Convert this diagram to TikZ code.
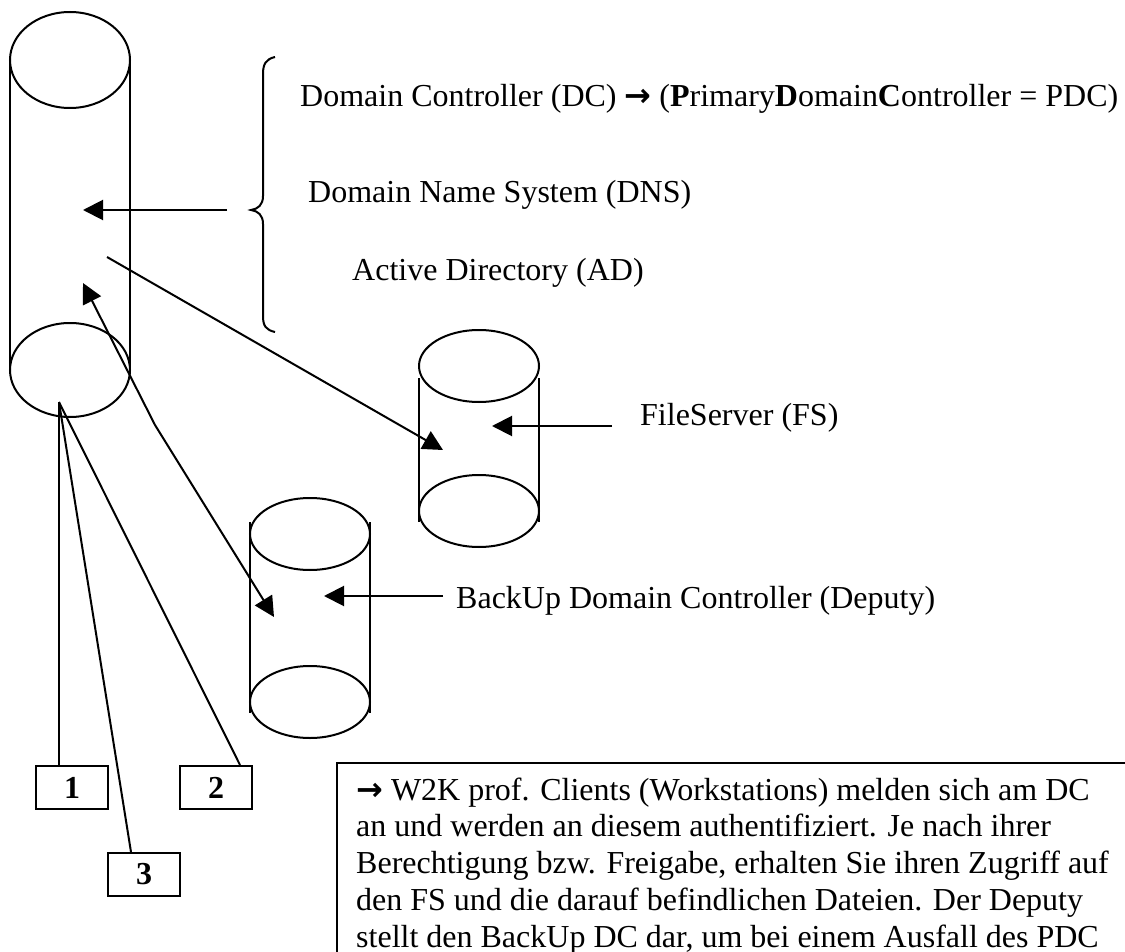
\documentclass[tikz,border=0pt]{standalone}
\usepackage{fontspec}
\setmainfont{Liberation Serif}
\newfontfamily\symfont{DejaVu Sans}
\usetikzlibrary{arrows.meta}
\begin{document}
\begin{tikzpicture}[x=1pt,y=-1pt,
  shape line/.style={line width=2pt},
  conn/.style={line width=2pt},
  arr/.style={conn,-{Triangle[length=20pt,width=20pt]}},
  darr/.style={conn,{Triangle[length=20pt,width=20pt]}-{Triangle[length=20pt,width=20pt]}},
  lbl/.style={anchor=base west,inner sep=0pt,font=\fontsize{32}{36.8}\selectfont},
  numbox/.style={draw,line width=2pt,minimum width=72pt,minimum height=43pt,inner sep=0pt,
    font=\bfseries\fontsize{32}{36.8}\selectfont},
]
\useasboundingbox (0,0) rectangle (1125,952);
\clip (0,0) rectangle (1125,952);

% main server (DC)
\draw[shape line] (70,60) ellipse [x radius=60,y radius=48];
\draw[shape line] (70,370) ellipse [x radius=60,y radius=47];
\draw[shape line] (10,60) -- (10,370) (130,60) -- (130,370);

% file server
\draw[shape line] (479,366) ellipse [x radius=60,y radius=36];
\draw[shape line] (479,511) ellipse [x radius=60,y radius=36];
\draw[shape line] (419,378) -- (419,522) (539,378) -- (539,522);

% backup domain controller
\draw[shape line] (310,534) ellipse [x radius=60,y radius=36];
\draw[shape line] (310,702) ellipse [x radius=60,y radius=36];
\draw[shape line] (250,522) -- (250,713) (370,522) -- (370,713);

% brace
\draw[shape line] (275,57) .. controls (266,59) and (263,64) .. (263,74)
  -- (263,196) .. controls (263,205) and (258,209) .. (251,210)
  .. controls (258,211) and (263,215) .. (263,224)
  -- (263,316) .. controls (263,326) and (266,330) .. (275,332);

% labels
\node[lbl] (dc) at (300,107) {Domain Controller (DC) {\symfont\bfseries →} (\textbf{P}rimary\textbf{D}omain\textbf{C}ontroller = PDC)};
\node[lbl] (dns) at (308,203) {Domain Name System (DNS)};
\node[lbl] (ad) at (352,280) {Active Directory (AD)};
\node[lbl] (fs) at (640,425) {FileServer (FS)};
\node[lbl] (bdc) at (456,608) {BackUp Domain Controller (Deputy)};

% arrow end points
\coordinate (braceTail) at (227,210);
\coordinate (dcIn) at (83,210);
\coordinate (dcOut) at (107,257);
\coordinate (fsHit) at (443,450);
\coordinate (fsTail) at (612,426);
\coordinate (fsIn) at (492,426);
\coordinate (bdcTail) at (443,596);
\coordinate (bdcIn) at (324,596);
\coordinate (dcUp) at (83,283);
\coordinate (bend) at (155,425);
\coordinate (bdcHit) at (274,617);
\coordinate (hub) at (59,402);

\draw[arr] (braceTail) -- (dcIn);
\draw[arr] (dcOut) -- (fsHit);
\draw[arr] (fsTail) -- (fsIn);
\draw[arr] (bdcTail) -- (bdcIn);
\draw[darr] (dcUp) -- (bend) -- (bdcHit);

% workstations
\node[numbox,anchor=north west] (w1) at (35,765) {1};
\node[numbox,anchor=north west] (w2) at (179,765) {2};
\node[numbox,anchor=north west] (w3) at (107,852) {3};
\draw[conn] (hub) -- (hub |- w1.north);
\draw[conn] (hub) -- ([xshift=24pt]w2.north);
\draw[conn] (hub) -- ([xshift=-13pt]w3.north);

% explanation
\draw[line width=2pt] (337,763) rectangle (1200,1000);
\node[lbl] (t1) at (356,800) {{\symfont\bfseries →} W2K prof. Clients (Workstations) melden sich am DC};
\node[lbl] (t2) at (356,836.8) {an und werden an diesem authentifiziert. Je nach ihrer};
\node[lbl] (t3) at (356,873.6) {Berechtigung bzw. Freigabe, erhalten Sie ihren Zugriff auf};
\node[lbl] (t4) at (356,910.4) {den FS und die darauf befindlichen Dateien. Der Deputy};
\node[lbl] (t5) at (356,947.2) {stellt den BackUp DC dar, um bei einem Ausfall des PDC};
\end{tikzpicture}
\end{document}
